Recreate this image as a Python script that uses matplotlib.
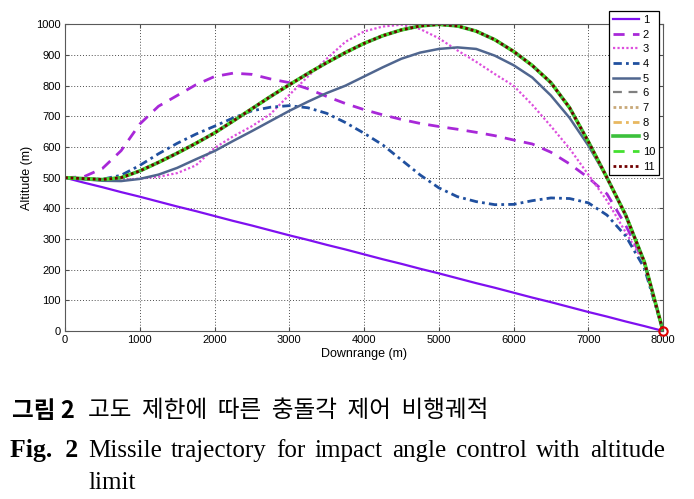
import matplotlib.pyplot as plt

# --- Dane (Downrange [m] -> Altitude [m]) ---
downrange = [0, 250, 500, 750, 1000, 1250, 1500, 1750, 2000, 2250, 2500,
             2750, 3000, 3250, 3500, 3750, 4000, 4250, 4500, 4750, 5000,
             5250, 5500, 5750, 6000, 6250, 6500, 6750, 7000, 7250, 7500,
             7750, 8000]

alt_1 = [500, 484, 469, 453, 438, 422, 406, 391, 375, 359, 344,
         328, 312, 297, 281, 266, 250, 234, 219, 203, 188,
         172, 156, 141, 125, 109, 94, 78, 62, 47, 31,
         16, 0]

alt_2 = [500, 503, 530, 588, 675, 733, 768, 803, 830, 841, 837,
         822, 810, 790, 765, 742, 722, 705, 690, 677, 667,
         658, 648, 637, 623, 610, 583, 545, 500, 447, 345,
         222, 0]

alt_3 = [500, 497, 494, 493, 497, 503, 515, 540, 597, 635, 668,
         708, 770, 830, 888, 943, 977, 993, 999, 985, 955,
         915, 878, 838, 800, 738, 668, 595, 510, 425, 322,
         222, 0]

alt_4 = [500, 496, 495, 508, 540, 578, 612, 642, 668, 695, 718,
         730, 735, 728, 710, 680, 645, 607, 558, 509, 467,
         438, 422, 412, 413, 425, 434, 432, 418, 378, 310,
         205, 0]

alt_5 = [500, 495, 490, 489, 496, 510, 532, 560, 587, 620, 652,
         685, 718, 748, 776, 800, 830, 860, 888, 908, 920,
         925, 920, 898, 867, 827, 768, 695, 605, 500, 380,
         225, 0]

# krzywe 6-11 pokrywają się na wykresie
alt_main = [500, 497, 494, 500, 522, 550, 580, 612, 646, 685, 725,
            765, 803, 840, 875, 908, 938, 963, 982, 995, 1000,
            995, 978, 950, 912, 866, 810, 728, 618, 500, 378,
            225, 0]

target_x = [8000]
target_y = [0]

caption_kr = "고도  제한에  따른  충돌각  제어  비행궤적"
caption_en = "Missile trajectory for impact angle control with altitude"

# --- Rysowanie ---
fig = plt.figure(figsize=(6.94, 4.99), dpi=100)
ax = fig.add_axes([0.0937, 0.3367, 0.8617, 0.6144])

ax.plot(downrange, alt_1, color='#7F10F0', lw=1.6, ls='-', label='1')
ax.plot(downrange, alt_2, color='#A828D8', lw=2.0, dashes=(4, 3), label='2')
ax.plot(downrange, alt_3, color='#DD4FDD', lw=1.6, ls=(0, (1, 1)), label='3')
ax.plot(downrange, alt_4, color='#20509F', lw=2.0, ls=(0, (3, 1.5, 1, 1.5)), label='4')
ax.plot(downrange, alt_5, color='#50668F', lw=1.8, ls='-', label='5')
ax.plot(downrange, alt_main, color='#808080', lw=1.6, dashes=(4, 3), label='6')
ax.plot(downrange, alt_main, color='#C8A878', lw=2.0, ls=(0, (1, 1)), label='7')
ax.plot(downrange, alt_main, color='#E8B860', lw=2.0, ls=(0, (3, 1.5, 1, 1.5)), label='8')
ax.plot(downrange, alt_main, color='#3CC03C', lw=2.6, ls='-', label='9')
ax.plot(downrange, alt_main, color='#44E030', lw=2.0, dashes=(4, 3), label='10')
ax.plot(downrange, alt_main, color='#700000', lw=2.0, ls=(0, (1, 1)), label='11')

ax.plot(target_x, target_y, 'o', ms=6, mfc='none', mec='#E00000', mew=1.5,
        clip_on=False, zorder=10)

ax.set_xlim(0, 8000)
ax.set_ylim(0, 1000)
ax.set_xticks(range(0, 8001, 1000))
ax.set_yticks(range(0, 1001, 100))

font = 'Liberation Sans'
ax.set_xlabel('Downrange (m)', fontsize=9, family=font, labelpad=2)
ax.set_ylabel('Altitude (m)', fontsize=9, family=font, labelpad=2)
for lab in ax.get_xticklabels() + ax.get_yticklabels():
    lab.set_family(font)
ax.tick_params(labelsize=8, direction='in', length=3, top=True, right=True,
               color='0.3', pad=3)

ax.grid(True, ls=(0, (1, 2)), color='0.3', lw=0.7)
for s in ax.spines.values():
    s.set_color('0.35')
    s.set_linewidth(0.8)

leg = ax.legend(loc='upper right', bbox_to_anchor=(0.9496, 0.978),
                bbox_transform=fig.transFigure, borderaxespad=0,
                handlelength=2.4, labelspacing=0.42,
                borderpad=0.35, handletextpad=0.3, fancybox=False,
                framealpha=1, prop={'family': font, 'size': 8})
leg.get_frame().set_edgecolor('black')
leg.get_frame().set_linewidth(0.9)

# --- Podpis rysunku ---
kr = ['Noto Sans CJK KR', 'DejaVu Sans']
fig.text(0.017, 0.177, '그림 2', fontsize=17, fontweight='bold',
         family=kr, va='center')
fig.text(0.127, 0.177, caption_kr, fontsize=17, family=kr, va='center')
fig.text(0.014, 0.097, 'Fig.  2', fontsize=18.5, fontweight='bold',
         family='Liberation Serif', va='center')

# wyjustowana linia angielska: od x=88 px do x=665 px
renderer = fig.canvas.get_renderer()
words = caption_en.split()
texts = [fig.text(0, 0.097, w, fontsize=18, family='Liberation Serif',
                  va='center') for w in words]
widths = [t.get_window_extent(renderer).width for t in texts]
x0, x1 = 88.0, 665.0
gap = (x1 - x0 - sum(widths)) / (len(words) - 1)
x = x0
for t, w in zip(texts, widths):
    t.set_x(x / 694.0)
    x += w + gap

fig.text(0.127, 0.032, 'limit', fontsize=18,
         family='Liberation Serif', va='center')

plt.savefig('out.png', dpi=100)
